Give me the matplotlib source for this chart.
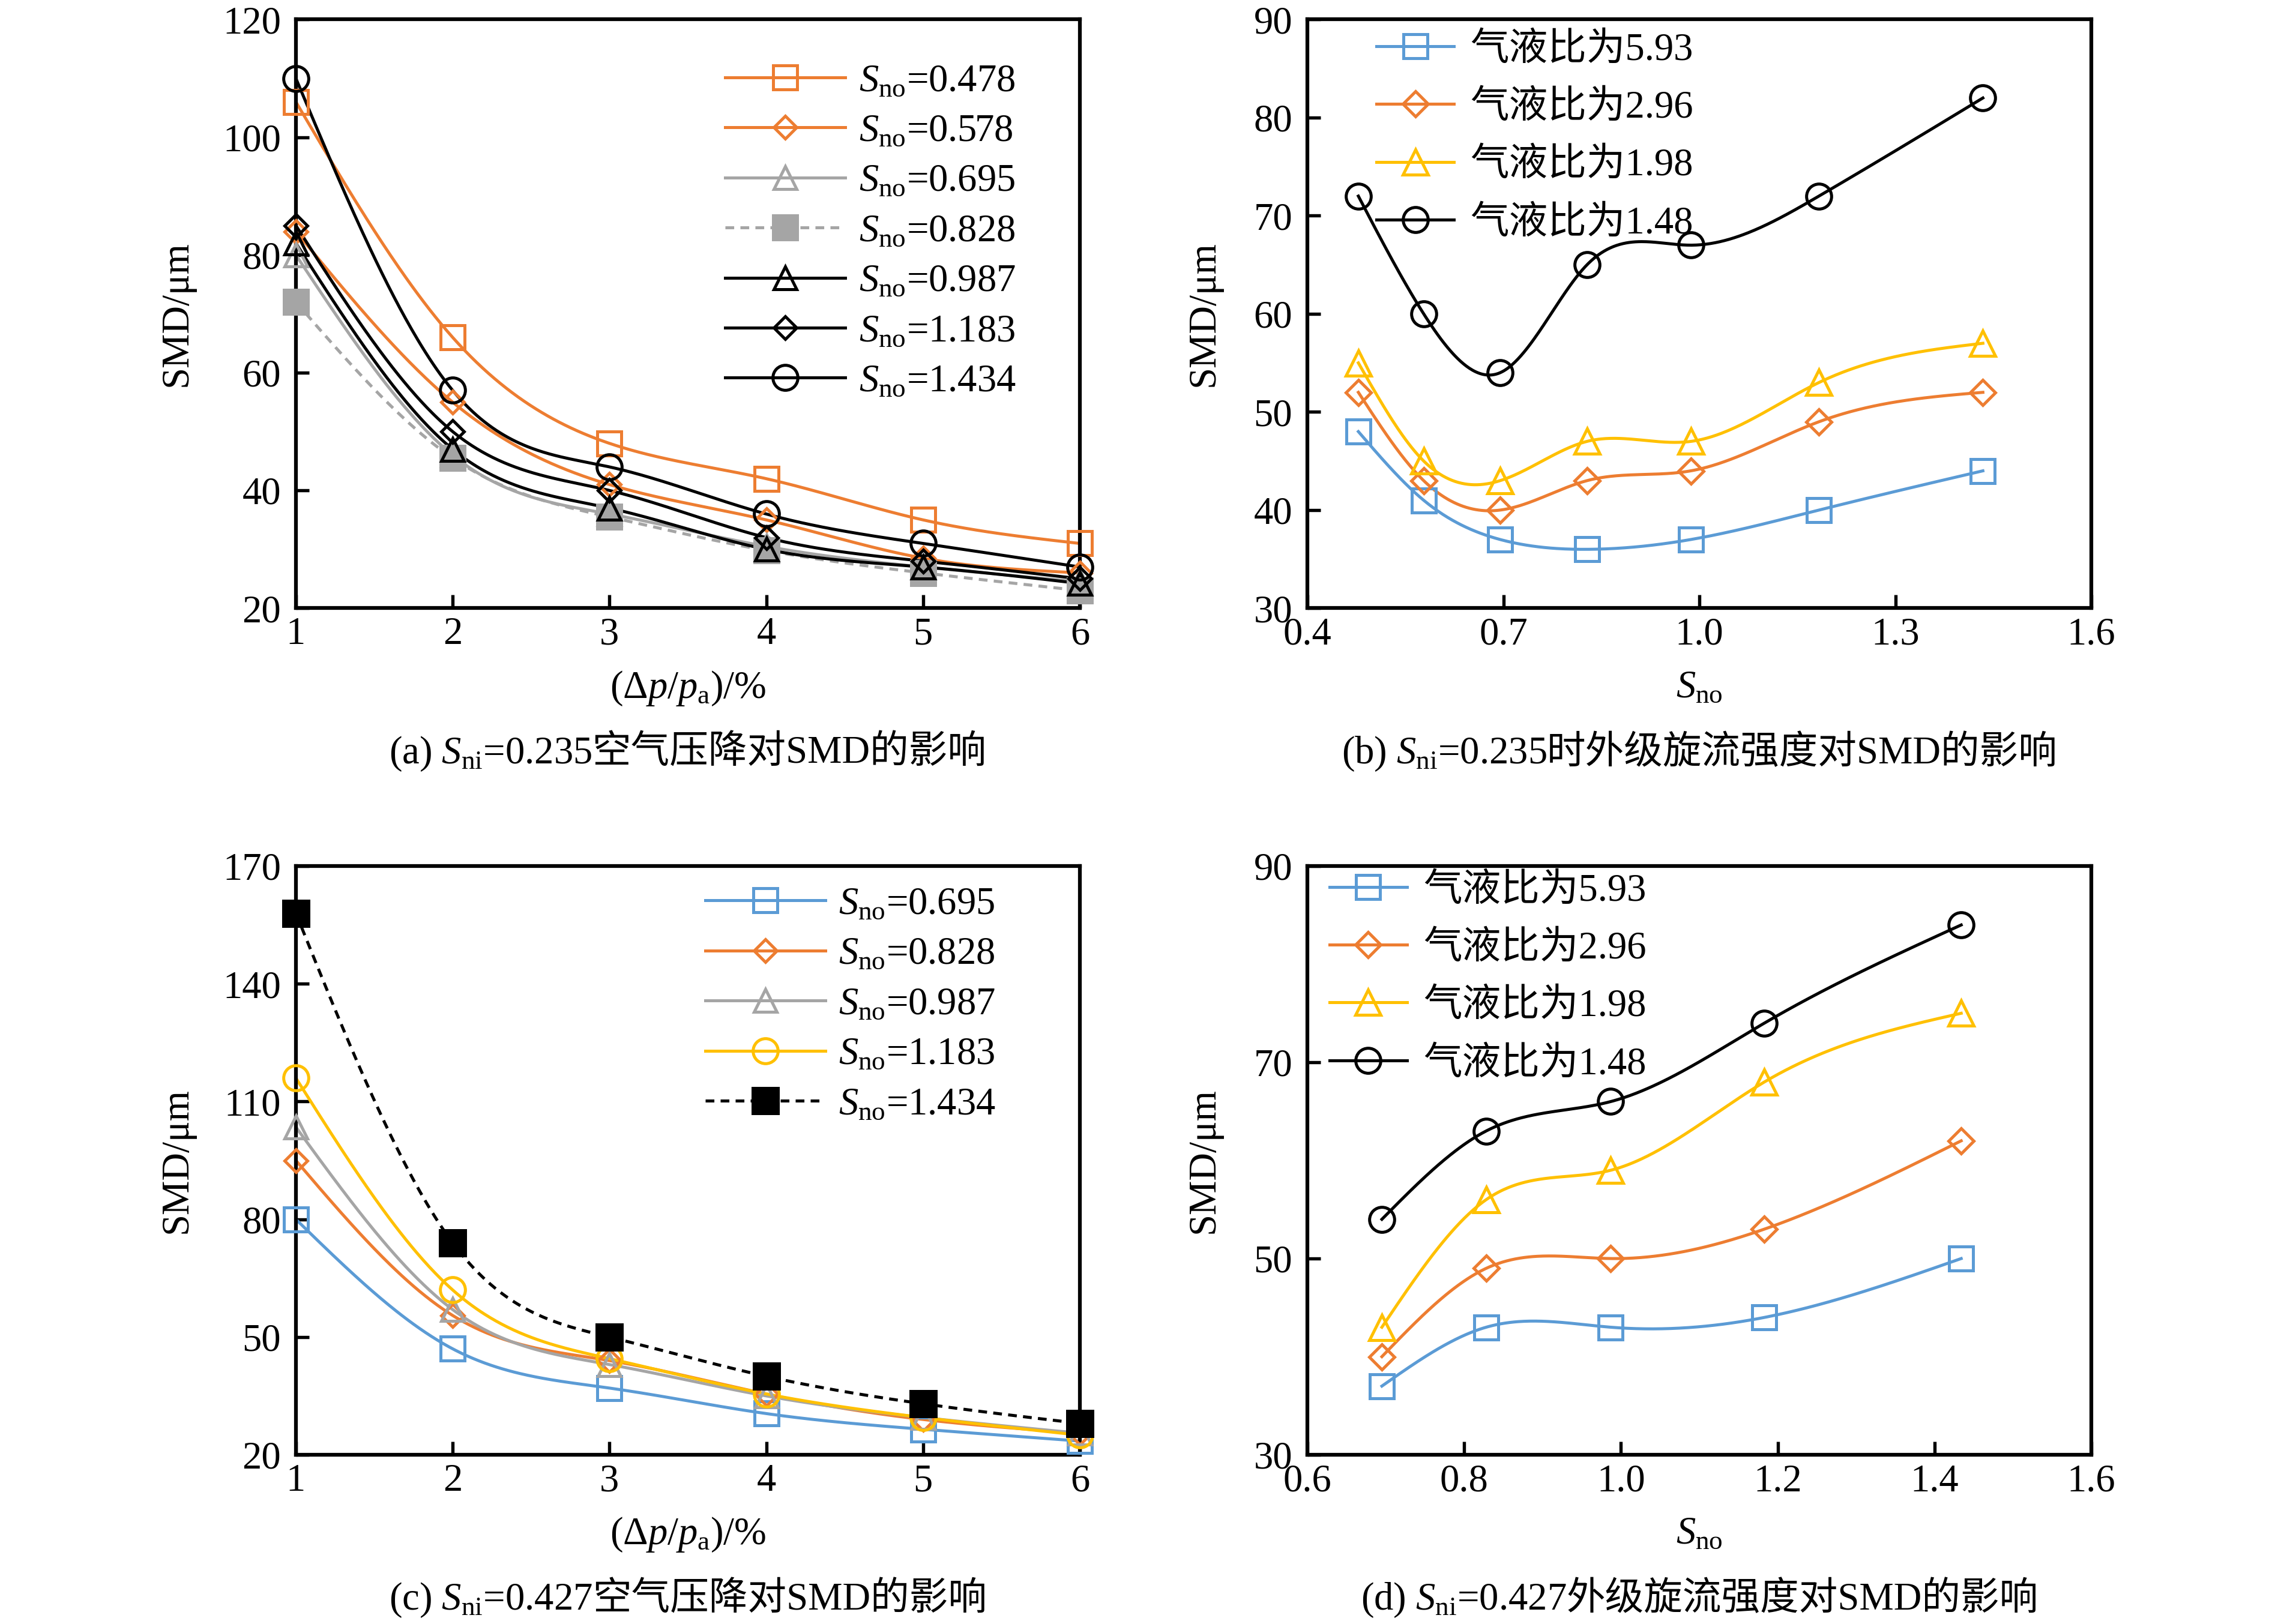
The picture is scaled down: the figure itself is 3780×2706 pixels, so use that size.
import numpy as np
import matplotlib
matplotlib.use('Agg')
import matplotlib.pyplot as plt
from matplotlib.lines import Line2D
from matplotlib.offsetbox import TextArea, HPacker, AnchoredOffsetbox
from matplotlib.font_manager import FontProperties

plt.rcParams['font.family'] = ['Liberation Serif', 'Noto Sans CJK SC']
plt.rcParams['mathtext.fontset'] = 'custom'
plt.rcParams['mathtext.rm'] = 'Liberation Serif'
plt.rcParams['mathtext.it'] = 'Liberation Serif:italic'
plt.rcParams['mathtext.bf'] = 'Liberation Serif:bold'
plt.rcParams['lines.scale_dashes'] = False
FS = 15.5

# ---------------- data ----------------
dp = [1, 2, 3, 4, 5, 6]

# (a) S_ni = 0.235
a_sno_labels = ['0.478', '0.578', '0.695', '0.828', '0.987', '1.183', '1.434']
a_0478 = [106, 66, 48, 42, 35, 31]
a_0578 = [84, 55, 41, 35, 28.5, 26]
a_0695 = [80, 46, 36, 30.5, 27, 24.5]
a_0828 = [72, 45.5, 35.5, 29.8, 26, 23]
a_0987 = [82, 47, 37, 30, 27, 24.2]
a_1183 = [85, 50, 40, 32, 28, 25]
a_1434 = [110, 57, 44, 36, 31, 27]

# (b) S_ni = 0.235
b_sno = [0.478, 0.578, 0.695, 0.828, 0.987, 1.183, 1.434]
glr_labels = ['5.93', '2.96', '1.98', '1.48']
b_593 = [48, 41, 37, 36, 37, 40, 44]
b_296 = [52, 43, 40, 43, 44, 49, 52]
b_198 = [55, 45, 43, 47, 47, 53, 57]
b_148 = [72, 60, 54, 65, 67, 72, 82]

# (c) S_ni = 0.427
c_sno_labels = ['0.695', '0.828', '0.987', '1.183', '1.434']
c_0695 = [80, 47, 37, 30.5, 26.5, 23.5]
c_0828 = [95, 55.5, 44, 35.5, 29, 25.5]
c_0987 = [103.5, 57, 43, 35, 29.5, 25.5]
c_1183 = [116, 62, 44.5, 35.5, 29.5, 25]
c_1434 = [158, 74, 50, 40, 33, 28]

# (d) S_ni = 0.427
d_sno = [0.695, 0.828, 0.987, 1.183, 1.434]
d_593 = [37, 43, 43, 44, 50]
d_296 = [40, 49, 50, 53, 62]
d_198 = [43, 56, 59, 68, 75]
d_148 = [54, 63, 66, 74, 84]

ORANGE = '#ED7D31'
GRAY = '#A5A5A5'
BLUE = '#5B9BD5'
YELLOW = '#FFC000'
BLACK = '#000000'
LW = 1.2
DASH = (0, (3.5, 2.5))


def smooth(x, y, n=400):
    x = np.asarray(x, float)
    y = np.asarray(y, float)
    m = len(x)
    h = np.diff(x)
    A = np.zeros((m, m))
    r = np.zeros(m)
    A[0, 0] = A[-1, -1] = 1
    for i in range(1, m - 1):
        A[i, i - 1] = h[i - 1]
        A[i, i] = 2 * (h[i - 1] + h[i])
        A[i, i + 1] = h[i]
        r[i] = 6 * ((y[i + 1] - y[i]) / h[i] - (y[i] - y[i - 1]) / h[i - 1])
    M = np.linalg.solve(A, r)
    xs = np.linspace(x[0], x[-1], n)
    idx = np.clip(np.searchsorted(x, xs) - 1, 0, m - 2)
    x0 = x[idx]
    x1 = x[idx + 1]
    hh = x1 - x0
    t0 = x1 - xs
    t1 = xs - x0
    ys = (M[idx] * t0 ** 3 / (6 * hh) + M[idx + 1] * t1 ** 3 / (6 * hh)
          + (y[idx] / hh - M[idx] * hh / 6) * t0
          + (y[idx + 1] / hh - M[idx + 1] * hh / 6) * t1)
    return xs, ys


def draw_series(ax, x, y, color, marker, ms, filled=False, ls='-', label=''):
    xs, ys = smooth(x, y)
    ax.plot(xs, ys, color=color, lw=LW, ls=ls, zorder=2)
    mfc = color if filled else 'none'
    ax.plot(x, y, ls='none', marker=marker, ms=ms, mfc=mfc, mec=color,
            mew=1.2, zorder=3, clip_on=False)
    return Line2D([], [], color=color, lw=LW, ls=ls, marker=marker, ms=ms,
                  mfc=mfc, mec=color, mew=1.2, label=label)


def style_axes(ax):
    for s in ax.spines.values():
        s.set_linewidth(1.5)
    ax.tick_params(axis='both', direction='in', length=5.2, width=1.3,
                   labelsize=FS, top=False, right=False)
    ax.tick_params(axis='x', pad=3.5)
    ax.tick_params(axis='y', pad=6)


def caption(fig, ax, prefix, rest, y):
    t1 = TextArea(prefix, textprops=dict(fontsize=FS, family='Liberation Serif'))
    t2 = TextArea(rest, textprops=dict(fontsize=FS,
                                       family=['Liberation Serif', 'Noto Sans CJK SC']))
    box = HPacker(children=[t1, t2], align='baseline', pad=0, sep=0)
    ab = AnchoredOffsetbox(loc='center', child=box, pad=0, borderpad=0,
                           frameon=False, bbox_to_anchor=(0.5, y),
                           bbox_transform=ax.transAxes)
    fig.add_artist(ab)


fig = plt.figure(figsize=(12.6, 9.02), dpi=300)
W, H = 0.3455, 0.3625
ax_a = fig.add_axes([0.1304, 0.6255, W, H])
ax_b = fig.add_axes([0.5762, 0.6255, W, H])
ax_c = fig.add_axes([0.1304, 0.1042, W, H])
ax_d = fig.add_axes([0.5762, 0.1042, W, H])

legprop = FontProperties(family=['Liberation Serif', 'Noto Sans CJK SC'], size=FS)

# ---------- (a) ----------
ax = ax_a
specs_a = [
    (a_0478, ORANGE, 's', 9.5, False, '-'),
    (a_0578, ORANGE, 'D', 6.5, False, '-'),
    (a_0695, GRAY, '^', 9, False, '-'),
    (a_0828, GRAY, 's', 9.5, True, DASH),
    (a_0987, BLACK, '^', 9, False, '-'),
    (a_1183, BLACK, 'D', 6.5, False, '-'),
    (a_1434, BLACK, 'o', 10, False, '-'),
]
handles = []
for (vals, c, m, ms, f, ls), lab in zip(specs_a, a_sno_labels):
    handles.append(draw_series(ax, dp, vals, c, m, ms, f, ls,
                               r'$S_{\rm no}$=' + lab))
ax.set_xlim(1, 6)
ax.set_ylim(20, 120)
ax.set_xticks(dp)
ax.set_yticks(np.arange(20, 121, 20))
style_axes(ax)
ax.legend(handles=handles, loc='upper left', bbox_to_anchor=(0.5475, 0.925),
          frameon=False, borderpad=0, borderaxespad=0, handlelength=3.1,
          handletextpad=0.35, labelspacing=0.37, prop=legprop)
ax.set_xlabel(r'($\Delta$$p$/$p_{\rm a}$)/%', fontsize=FS)
ax.set_ylabel('SMD/μm', fontsize=FS)
ax.xaxis.set_label_coords(0.5, -0.136)
ax.xaxis.label.set_va('center')
ax.yaxis.set_label_coords(-0.152, 0.5)
ax.yaxis.label.set_va('center')
caption(fig, ax, r'(a) $S_{\rm ni}$=0.235', '空气压降对SMD的影响', -0.247)

# ---------- (b) ----------
ax = ax_b
specs_b = [
    (b_593, BLUE, 's', 9.5),
    (b_296, ORANGE, 'D', 7),
    (b_198, YELLOW, '^', 10),
    (b_148, BLACK, 'o', 10),
]
handles = []
for (vals, c, m, ms), lab in zip(specs_b, glr_labels):
    handles.append(draw_series(ax, b_sno, vals, c, m, ms, False, '-',
                               '气液比为' + lab))
ax.set_xlim(0.4, 1.6)
ax.set_ylim(30, 90)
ax.set_xticks([0.4, 0.7, 1.0, 1.3, 1.6])
ax.set_xticklabels(['0.4', '0.7', '1.0', '1.3', '1.6'])
ax.set_yticks(np.arange(30, 91, 10))
style_axes(ax)
ax.legend(handles=handles, loc='upper left', bbox_to_anchor=(0.088, 0.978),
          frameon=False, borderpad=0, borderaxespad=0, handlelength=2.0,
          handletextpad=0.42, labelspacing=0.57, prop=legprop)
ax.set_xlabel(r'$S_{\rm no}$', fontsize=FS)
ax.set_ylabel('SMD/μm', fontsize=FS)
ax.xaxis.set_label_coords(0.5, -0.135)
ax.xaxis.label.set_va('center')
ax.yaxis.set_label_coords(-0.132, 0.5)
ax.yaxis.label.set_va('center')
caption(fig, ax, r'(b) $S_{\rm ni}$=0.235', '时外级旋流强度对SMD的影响', -0.247)

# ---------- (c) ----------
ax = ax_c
specs_c = [
    (c_0695, BLUE, 's', 9.5, False, '-'),
    (c_0828, ORANGE, 'D', 6.5, False, '-'),
    (c_0987, GRAY, '^', 9, False, '-'),
    (c_1183, YELLOW, 'o', 10, False, '-'),
    (c_1434, BLACK, 's', 10, True, DASH),
]
handles = []
for (vals, c, m, ms, f, ls), lab in zip(specs_c, c_sno_labels):
    handles.append(draw_series(ax, dp, vals, c, m, ms, f, ls,
                               r'$S_{\rm no}$=' + lab))
ax.set_xlim(1, 6)
ax.set_ylim(20, 170)
ax.set_xticks(dp)
ax.set_yticks(np.arange(20, 171, 30))
style_axes(ax)
ax.legend(handles=handles, loc='upper left', bbox_to_anchor=(0.522, 0.965),
          frameon=False, borderpad=0, borderaxespad=0, handlelength=3.1,
          handletextpad=0.35, labelspacing=0.37, prop=legprop)
ax.set_xlabel(r'($\Delta$$p$/$p_{\rm a}$)/%', fontsize=FS)
ax.set_ylabel('SMD/μm', fontsize=FS)
ax.xaxis.set_label_coords(0.5, -0.136)
ax.xaxis.label.set_va('center')
ax.yaxis.set_label_coords(-0.152, 0.5)
ax.yaxis.label.set_va('center')
caption(fig, ax, r'(c) $S_{\rm ni}$=0.427', '空气压降对SMD的影响', -0.247)

# ---------- (d) ----------
ax = ax_d
specs_d = [
    (d_593, BLUE, 's', 9.5),
    (d_296, ORANGE, 'D', 7),
    (d_198, YELLOW, '^', 10),
    (d_148, BLACK, 'o', 10),
]
handles = []
for (vals, c, m, ms), lab in zip(specs_d, glr_labels):
    handles.append(draw_series(ax, d_sno, vals, c, m, ms, False, '-',
                               '气液比为' + lab))
ax.set_xlim(0.6, 1.6)
ax.set_ylim(30, 90)
ax.set_xticks([0.6, 0.8, 1.0, 1.2, 1.4, 1.6])
ax.set_xticklabels(['0.6', '0.8', '1.0', '1.2', '1.4', '1.6'])
ax.set_yticks([30, 50, 70, 90])
style_axes(ax)
ax.legend(handles=handles, loc='upper left', bbox_to_anchor=(0.028, 0.988),
          frameon=False, borderpad=0, borderaxespad=0, handlelength=2.0,
          handletextpad=0.42, labelspacing=0.57, prop=legprop)
ax.set_xlabel(r'$S_{\rm no}$', fontsize=FS)
ax.set_ylabel('SMD/μm', fontsize=FS)
ax.xaxis.set_label_coords(0.5, -0.135)
ax.xaxis.label.set_va('center')
ax.yaxis.set_label_coords(-0.132, 0.5)
ax.yaxis.label.set_va('center')
caption(fig, ax, r'(d) $S_{\rm ni}$=0.427', '外级旋流强度对SMD的影响', -0.247)

fig.savefig('out.png', dpi=300)
